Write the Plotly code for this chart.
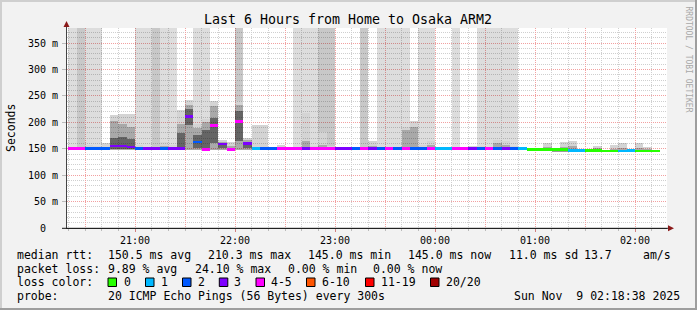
import pandas as pd
import plotly.graph_objects as go

# ---------------- data ----------------
start_time = "2025-11-08 20:20"
step = "5min"

median_ms = [150, 150, 150, 150, 150, 155, 155, 153, 150, 150,
             150, 150, 150, 150, 211, 163, 149, 194, 159, 149,
             202, 160, 150, 150, 150, 150, 150, 150, 150, 150,
             150, 150, 150, 150, 150, 150, 150, 150, 150, 150,
             150, 150, 150, 150, 150, 150, 150, 150, 150, 150,
             150, 150, 150, 150, 150, 148.5, 148.5, 148.5, 148.5, 148.5,
             147, 147, 147, 147, 145.5, 145.5, 145.5, 147, 145.5, 145.5,
             145.5]

loss_pings = [4, 4, 2, 2, 2, 3, 3, 3, 2, 3,
              3, 2, 3, 3, 3, 2, 4, 4, 3, 4,
              4, 3, 1, 2, 2, 4, 4, 4, 3, 4,
              4, 4, 3, 3, 2, 4, 3, 2, 4, 2,
              4, 2, 2, 4, 1, 1, 4, 4, 3, 2,
              4, 2, 3, 2, 1, 0, 0, 0, 0, 0,
              1, 1, 0, 0, 0, 0, 1, 1, 0, 0,
              0]

# shade of the "lost / off-scale" smoke that reaches the top (0 = none)
top_level = [1, 2, 1, 1, 0, 0, 0, 0, 1, 1,
             2, 1, 1, 0, 0, 1, 1, 0, 0, 0,
             2, 0, 0, 0, 0, 0, 0, 1, 1, 1,
             2, 2, 0, 0, 0, 2, 0, 1, 1, 1,
             1, 0, 1, 1, 0, 0, 1, 0, 0, 1,
             1, 1, 1, 1, 0, 0, 0, 0, 0, 0,
             0, 0, 0, 0, 0, 0, 0, 0, 0, 0,
             0]

smoke_lo = [148] * 55 + [147] * 9 + [144] * 7

smoke_hi = [153, 152, 157, 156, 161, 213, 216, 216, 158, 153,
            153, 162, 158, 224, 243, 196, 207, 240, 167, 162,
            240, 171, 194, 194, 152, 158, 152, 152, 218, 155,
            181, 155, 152, 153, 153, 152, 165, 153, 153, 152,
            192, 202, 158, 164, 153, 152, 152, 154, 155, 156,
            152, 167, 165, 156, 153, 151, 151, 160, 151, 162,
            165, 150, 150, 155, 148, 158, 160, 149, 160, 153,
            148]

smoke_mid = [151, 151, 154, 153, 153, 202, 196, 192, 154, 151,
             151, 155, 153, 196, 232, 190, 200, 230, 162, 155,
             232, 166, 153, 153, 151, 153, 151, 151, 164, 152,
             157, 152, 151, 152, 152, 151, 156, 151, 151, 151,
             185, 192, 154, 158, 151, 151, 151, 152, 152, 153,
             151, 160, 158, 153, 151, 150, 150, 153, 150, 154,
             155, 149, 149, 151, 147, 150, 151, 148, 152, 149,
             147]

N = None
core_lo = [N, N, N, N, N, 150, 150, 150, N, N,
           N, N, N, 150, 194, 152, 151, 160, 151, N,
           164, 151, N, N, N, N, N, N, N, N,
           N, N, N, N, N, N, N, N, N, N,
           N, N, N, N, N, N, N, N, N, N,
           N, N, N, N, N, N, N, N, 143.5, 143.5,
           N, N, N, N, N, N, N, N, N, N,
           N]
core_hi = [N, N, N, N, N, 170, 172, 168, N, N,
           N, N, N, 180, 226, 176, 186, 208, 157, N,
           222, 158, N, N, N, N, N, N, N, N,
           N, N, N, N, N, N, N, N, N, N,
           N, N, N, N, N, N, N, N, N, N,
           N, N, N, N, N, N, N, N, 146.5, 146.5,
           N, N, N, N, N, N, N, N, N, N,
           N]

loss_labels = ["0", "1", "2", "3", "4-5", "6-10", "11-19", "20/20"]
loss_limits = [0, 1, 2, 3, 5, 10, 19, 20]
loss_colors = ["#26ff00", "#00b8ff", "#0059ff", "#7e00ff",
               "#ff00ff", "#ff5500", "#ff0000", "#a10000"]

y_tickvals = [0, 50, 100, 150, 200, 250, 300, 350]
y_ticktext = ["0\u00a0\u00a0", "50 m", "100 m", "150 m", "200 m", "250 m", "300 m", "350 m"]
y_max = 378.5

title = "Last 6 Hours from Home to Osaka ARM2"
stats_lines = [
    [("median rtt:", 16), ("150.5 ms avg", 107), ("210.3 ms max", 207), ("145.0 ms min", 307),
     ("145.0 ms now", 407), ("11.0 ms sd", 508), ("13.7", 582.5), ("am/s", 642)],
    [("packet loss:", 16), ("9.89 % avg", 107), ("24.10 % max", 194), ("0.00 % min", 287),
     ("0.00 % now", 372)],
    [("loss color:", 16)],
    [("probe:", 16), ("20 ICMP Echo Pings (56 Bytes) every 300s", 107),
     ("Sun Nov\u00a0\u00a09 02:18:38 2025", 513)],
]
stats_y = [255, 268.5, 282.3, 296]
box_x = [108, 145.5, 182.5, 219.3, 256, 306.5, 365.5, 430.5]
box_label_x = [123, 160, 197, 233, 270, 320.5, 380, 445]

# ---------------- layout geometry ----------------
W, H = 697, 310
L, R, T, B = 67, 30, 28, 82
PW, PH = W - L - R, H - T - B
def px(x):
    return (x - L) / PW
def py(y):
    return (H - B - y) / PH

FONT = "DejaVu Sans Mono"

times = pd.date_range(start_time, periods=len(median_ms), freq=step)
width_ms = 5 * 60 * 1000

def loss_color(n):
    for lim, c in zip(loss_limits, loss_colors):
        if n <= lim:
            return c
    return loss_colors[-1]

fig = go.Figure()

# top (off-scale) smoke
top_shade = {1: "rgba(0,0,0,0.135)", 2: "rgba(0,0,0,0.215)"}
tx = [t for t, lv in zip(times, top_level) if lv]
tb = [h for h, lv in zip(smoke_hi, top_level) if lv]
th = [y_max + 30 - h for h, lv in zip(smoke_hi, top_level) if lv]
tc = [top_shade[lv] for lv in top_level if lv]
fig.add_trace(go.Bar(x=tx, y=th, base=tb, width=width_ms, offset=0,
                     marker=dict(color=tc, line=dict(width=0))))

# outer smoke
fig.add_trace(go.Bar(x=times, y=[h - l for h, l in zip(smoke_hi, smoke_lo)], base=smoke_lo,
                     width=width_ms, offset=0,
                     marker=dict(color="rgba(0,0,0,0.17)", line=dict(width=0))))
# denser smoke
fig.add_trace(go.Bar(x=times, y=[m - l for m, l in zip(smoke_mid, smoke_lo)], base=smoke_lo,
                     width=width_ms, offset=0,
                     marker=dict(color="rgba(0,0,0,0.2)", line=dict(width=0))))
# core smoke
fig.add_trace(go.Bar(x=times,
                     y=[(h - l) if h is not None else None for h, l in zip(core_hi, core_lo)],
                     base=[l if l is not None else 0 for l in core_lo],
                     width=width_ms, offset=0,
                     marker=dict(color="rgba(0,0,0,0.4)", line=dict(width=0))))
# median line coloured by loss
med_h = 4.8
fig.add_trace(go.Bar(x=times, y=[med_h] * len(median_ms), base=[m - med_h / 2 for m in median_ms],
                     width=width_ms, offset=0,
                     marker=dict(color=[loss_color(n) for n in loss_pings], line=dict(width=0))))

x_major = pd.date_range("2025-11-08 20:30", "2025-11-09 02:00", freq="30min")
x_text = ["" if t.minute == 30 else t.strftime("%H:%M") for t in x_major]
x_minor = pd.date_range("2025-11-08 20:20", "2025-11-09 02:10", freq="10min")

MAJ = "#f2a0a0"
MIN = "#cfcfcf"
DASH = "1px,1px"

fig.update_layout(
    width=W, height=H, autosize=False,
    margin=dict(l=L, r=R, t=T, b=B, pad=0),
    paper_bgcolor="#f2f2f2", plot_bgcolor="#ffffff",
    barmode="overlay", bargap=0, showlegend=False,
    font=dict(family=FONT, size=10, color="#000"),
    title=dict(text=title, x=348 / W, xanchor="center", y=1 - 19 / H, yanchor="middle",
               font=dict(family=FONT, size=13.3, color="#000")),
    xaxis=dict(type="date",
               range=[pd.Timestamp("2025-11-08 20:19:12"), pd.Timestamp("2025-11-09 02:19:12")],
               tickmode="array", tickvals=x_major, ticktext=x_text,
               showgrid=True, gridcolor=MAJ, griddash=DASH, gridwidth=1,
               ticks="outside", ticklen=3, tickcolor="#d08080",
               minor=dict(tickmode="array", tickvals=x_minor, showgrid=True, gridcolor=MIN,
                          griddash=DASH, ticks="outside", ticklen=2, tickcolor="#bbbbbb"),
               showline=True, linecolor="#222", linewidth=1, zeroline=False,
               tickfont=dict(family=FONT, size=10), fixedrange=True),
    yaxis=dict(range=[0, y_max], tickmode="array", tickvals=y_tickvals, ticktext=y_ticktext,
               showgrid=True, gridcolor=MAJ, griddash=DASH, gridwidth=1,
               ticks="outside", ticklen=4, tickcolor="#bbbbbb",
               minor=dict(dtick=10, tick0=0, showgrid=True, gridcolor=MIN, griddash=DASH),
               showline=True, linecolor="#444", linewidth=1, zeroline=False,
               tickfont=dict(family=FONT, size=10), ticklabelstandoff=2, fixedrange=True),
)

ann = []
ann.append(dict(text="Seconds", x=px(11), y=py(128), xref="paper", yref="paper",
                textangle=-90, showarrow=False, xanchor="center", yanchor="middle",
                font=dict(family=FONT, size=11.5, color="#000")))
ann.append(dict(text="RRDTOOL / TOBI OETIKER", x=px(688.5), y=py(59), xref="paper", yref="paper",
                textangle=90, showarrow=False, xanchor="center", yanchor="middle",
                font=dict(family=FONT, size=8, color="#a8a8a8")))
for line, yy in zip(stats_lines, stats_y):
    for txt, xx in line:
        ann.append(dict(text=txt, x=px(xx - 1), y=py(yy), xref="paper", yref="paper",
                        showarrow=False, xanchor="left", yanchor="middle",
                        font=dict(family=FONT, size=11.5, color="#000")))
for lab, xx in zip(loss_labels, box_label_x):
    ann.append(dict(text=lab, x=px(xx - 1), y=py(stats_y[2]), xref="paper", yref="paper",
                    showarrow=False, xanchor="left", yanchor="middle",
                    font=dict(family=FONT, size=11.5, color="#000")))
fig.update_layout(annotations=ann)

shapes = []
# legend colour boxes
for c, xx in zip(loss_colors, box_x):
    shapes.append(dict(type="rect", xref="paper", yref="paper",
                       x0=px(xx), x1=px(xx + 8.5), y0=py(286.5), y1=py(278),
                       fillcolor=c, line=dict(color="#000", width=1)))
# axis arrows
shapes.append(dict(type="line", xref="paper", yref="paper", x0=px(66.5), x1=px(66.5),
                   y0=py(228), y1=py(24), line=dict(color="#444", width=1)))
shapes.append(dict(type="path", xref="paper", yref="paper",
                   path=f"M {px(63.5)},{py(27)} L {px(69.5)},{py(27)} L {px(66.5)},{py(21)} Z",
                   fillcolor="#8b1a1a", line=dict(width=0)))
shapes.append(dict(type="line", xref="paper", yref="paper", x0=px(62), x1=px(669),
                   y0=py(228.3), y1=py(228.3), line=dict(color="#222", width=1)))
shapes.append(dict(type="path", xref="paper", yref="paper",
                   path=f"M {px(668)},{py(225.3)} L {px(668)},{py(231.3)} L {px(674)},{py(228.3)} Z",
                   fillcolor="#8b1a1a", line=dict(width=0)))
# frame shading
shapes.append(dict(type="rect", xref="paper", yref="paper", x0=px(0), x1=px(W), y0=py(0), y1=py(2),
                   fillcolor="#cfcfcf", line=dict(width=0), layer="below"))
shapes.append(dict(type="rect", xref="paper", yref="paper", x0=px(0), x1=px(2), y0=py(0), y1=py(H),
                   fillcolor="#cfcfcf", line=dict(width=0), layer="below"))
shapes.append(dict(type="rect", xref="paper", yref="paper", x0=px(0), x1=px(W), y0=py(H - 2), y1=py(H),
                   fillcolor="#9e9e9e", line=dict(width=0), layer="below"))
shapes.append(dict(type="rect", xref="paper", yref="paper", x0=px(W - 2), x1=px(W), y0=py(0), y1=py(H),
                   fillcolor="#9e9e9e", line=dict(width=0), layer="below"))
fig.update_layout(shapes=shapes)

fig.write_html("out.html", config=dict(displayModeBar=False))
